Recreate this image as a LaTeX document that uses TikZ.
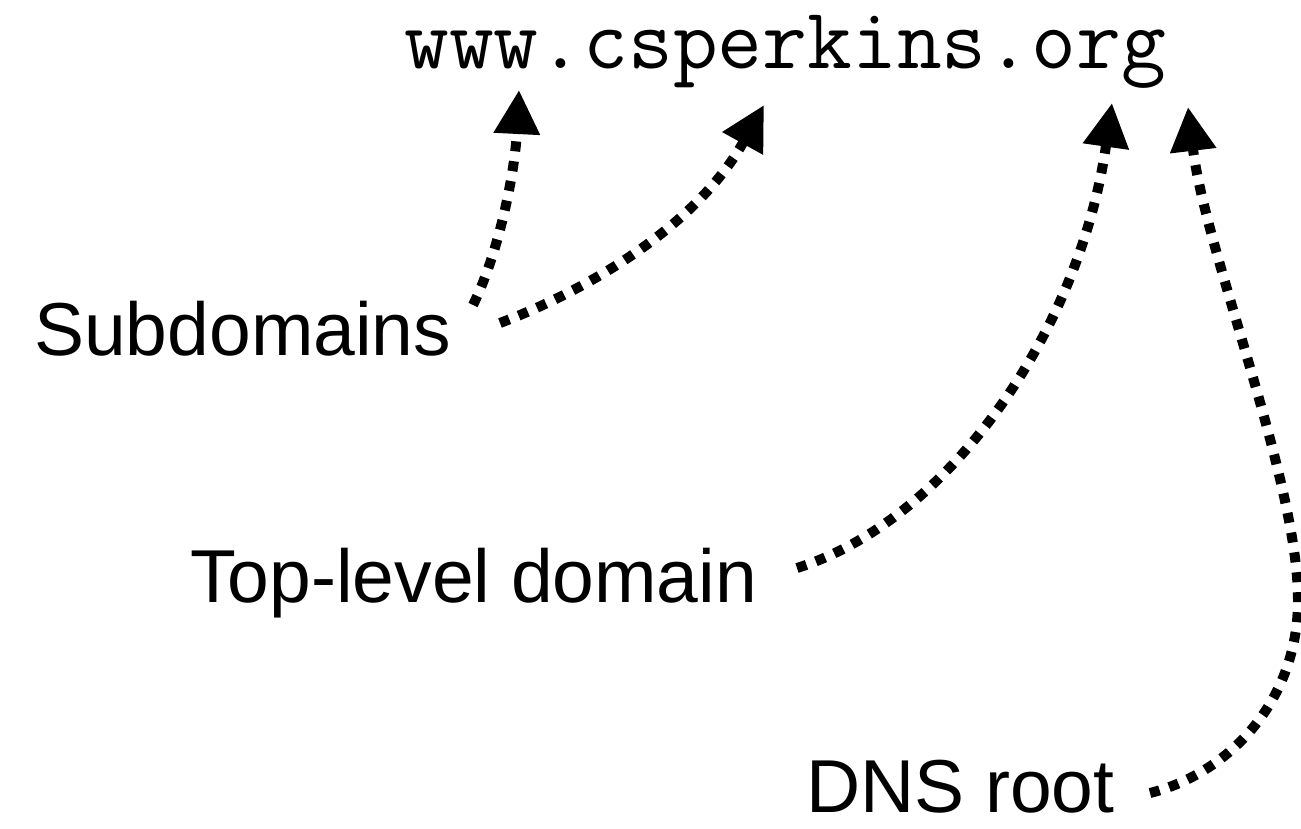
\documentclass[tikz,border=0pt]{standalone}
\usepackage{fontspec}
\setmainfont{Liberation Sans}
\usetikzlibrary{arrows.meta}
\begin{document}
\begin{tikzpicture}[x=1pt,y=-1pt,
  lbl/.style={anchor=base west,inner sep=0pt,font=\fontsize{75pt}{80pt}\selectfont},
  urltext/.style={anchor=base west,inner sep=0pt,font=\ttfamily\fontsize{87pt}{92pt}\selectfont},
  pointer/.style={line width=10pt,dash pattern=on 10pt off 10pt,
    -{Triangle[length=44pt,width=44pt]}}]
\useasboundingbox (0,0) rectangle (1301,828);
% texts
\node[urltext] (url) at (404,68) {www.csperkins.org};
\node[lbl] (sub) at (34,355) {Subdomains};
\node[lbl] (tld) at (190,602) {Top-level domain};
\node[lbl] (root) at (806,812) {DNS root};
% connector ends
\coordinate (s1) at (473,305);
\coordinate (t1) at (519,90);
\coordinate (s2) at (500,323);
\coordinate (t2) at (764,105);
\coordinate (s3) at (797,568);
\coordinate (t3) at (1112,103);
\coordinate (s4) at (1150,793);
\coordinate (m4) at (1298,600);
\coordinate (t4) at (1188,107);
% connectors
\draw[pointer] (s1) .. controls (500,250) and (515,170) .. (t1);
\draw[pointer] (s2) .. controls (600,285) and (700,220) .. (t2);
\draw[pointer] (s3) .. controls (950,520) and (1080,330) .. (t3);
\draw[pointer] (s4) .. controls (1230,773) and (1298,700) .. (m4)
  .. controls (1298,480) and (1205,250) .. (t4);
\end{tikzpicture}
\end{document}
